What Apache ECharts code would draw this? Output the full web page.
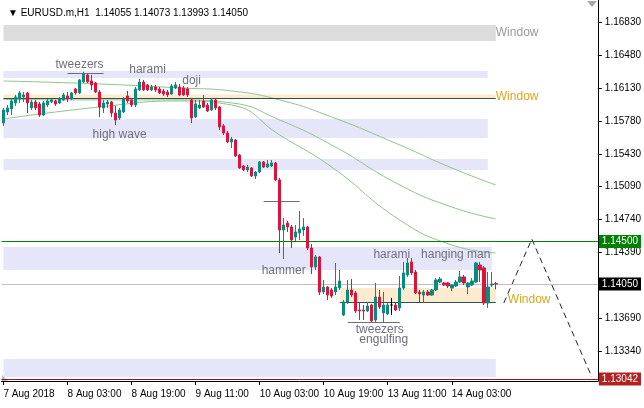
<!DOCTYPE html>
<html><head><meta charset="utf-8">
<script src="https://cdn.jsdelivr.net/npm/echarts@6/dist/echarts.min.js"></script>
<style>html,body{margin:0;padding:0;background:#fff}#c{width:644px;height:408px}</style>
</head><body><div id="c"></div><script>
// ---- data (EURUSD H1, bar 0 = 7 Aug 2018 11:00) ----
const open = [1.15758,1.15875,1.15907,1.15971,1.16013,1.16034,1.16077,1.15918,1.15981,1.15960,
1.15843,1.15949,1.15981,1.15992,1.15971,1.16003,1.16045,1.16013,1.16119,1.16077,
1.16193,1.16268,1.16204,1.16183,1.16087,1.15918,1.15960,1.15981,1.15864,1.15811,
1.15875,1.16045,1.16003,1.15949,1.16109,1.16193,1.16162,1.16109,1.16140,1.16119,
1.16098,1.16087,1.16066,1.16130,1.16140,1.16130,1.16119,1.16003,1.15822,1.15918,
1.15992,1.15949,1.15896,1.16003,1.15928,1.15727,1.15652,1.15557,1.15578,1.15418,
1.15302,1.15260,1.15281,1.15196,1.15238,1.15345,1.15291,1.15302,1.15334,1.15154,
1.14623,1.14697,1.14655,1.14549,1.14591,1.14623,1.14655,1.14432,1.14231,1.14337,
1.13965,1.14018,1.13987,1.13965,1.14008,1.13721,1.13859,1.13987,1.13955,1.13774,
1.13774,1.13764,1.13827,1.13668,1.13912,1.13743,1.13732,1.13827,1.13827,1.13796,
1.14008,1.14146,1.14284,1.14178,1.13965,1.13933,1.13965,1.13933,1.13987,1.14071,
1.14061,1.14061,1.14008,1.14029,1.14071,1.14125,1.14018,1.14040,1.14071,1.14252,
1.14220,1.13849,1.14040,1.14055];
const high = [1.15918,1.15949,1.16024,1.16056,1.16098,1.16087,1.16087,1.16003,1.16003,1.15981,
1.15992,1.16013,1.16013,1.16003,1.16034,1.16077,1.16087,1.16087,1.16130,1.16225,
1.16300,1.16278,1.16268,1.16193,1.16109,1.16003,1.16003,1.15992,1.15939,1.15918,
1.16034,1.16098,1.16024,1.16140,1.16225,1.16215,1.16172,1.16162,1.16162,1.16140,
1.16119,1.16109,1.16172,1.16193,1.16172,1.16151,1.16140,1.16024,1.16003,1.16003,
1.16056,1.15971,1.16024,1.16024,1.15939,1.15748,1.15674,1.15610,1.15589,1.15430,
1.15313,1.15313,1.15291,1.15249,1.15355,1.15355,1.15366,1.15366,1.15345,1.15175,
1.14750,1.14719,1.14676,1.14676,1.14825,1.14750,1.14666,1.14475,1.14358,1.14347,
1.14093,1.14029,1.14008,1.14273,1.14199,1.13880,1.14093,1.14103,1.13976,1.13859,
1.13827,1.13859,1.13838,1.14061,1.13987,1.13965,1.13849,1.13902,1.13849,1.14135,
1.14284,1.14326,1.14326,1.14199,1.13987,1.13987,1.13987,1.13997,1.14114,1.14125,
1.14071,1.14071,1.14050,1.14093,1.14188,1.14146,1.14071,1.14114,1.14284,1.14284,
1.14241,1.14178,1.14178,1.14073];
const low = [1.15727,1.15843,1.15843,1.15939,1.15971,1.15981,1.15864,1.15896,1.15896,1.15822,
1.15833,1.15928,1.15971,1.15939,1.15960,1.15992,1.15981,1.16003,1.16056,1.16066,
1.16183,1.16183,1.16109,1.16077,1.15822,1.15864,1.15918,1.15822,1.15737,1.15790,
1.15864,1.15971,1.15928,1.15928,1.16098,1.16098,1.16098,1.16098,1.16087,1.16066,
1.16045,1.16034,1.16056,1.16119,1.16045,1.16045,1.16034,1.15758,1.15811,1.15907,
1.15918,1.15875,1.15886,1.15896,1.15684,1.15631,1.15546,1.15493,1.15397,1.15270,
1.15249,1.15238,1.15185,1.15164,1.15228,1.15281,1.15281,1.15291,1.15143,1.14379,
1.14316,1.14602,1.14432,1.14506,1.14517,1.14559,1.14411,1.14156,1.14199,1.13933,
1.13944,1.13880,1.13902,1.13933,1.13987,1.13711,1.13838,1.13912,1.13743,1.13668,
1.13668,1.13753,1.13647,1.13647,1.13785,1.13647,1.13721,1.13721,1.13764,1.13764,
1.13987,1.14125,1.14146,1.13944,1.13859,1.13849,1.13923,1.13923,1.13976,1.14061,
1.14029,1.14008,1.13976,1.14018,1.14061,1.14040,1.13944,1.14029,1.14061,1.14071,
1.13827,1.13796,1.14018,1.13993];
const close = [1.15896,1.15918,1.15992,1.16034,1.16077,1.16056,1.15971,1.15981,1.15918,1.15843,
1.15971,1.15992,1.16003,1.15960,1.16013,1.16056,1.16013,1.16077,1.16077,1.16215,
1.16278,1.16193,1.16162,1.16087,1.15928,1.15971,1.15981,1.15864,1.15790,1.15896,
1.16013,1.15992,1.15949,1.16119,1.16193,1.16109,1.16109,1.16140,1.16109,1.16077,
1.16066,1.16056,1.16151,1.16162,1.16056,1.16056,1.16056,1.15811,1.15960,1.15949,
1.15928,1.15886,1.16003,1.15918,1.15716,1.15652,1.15557,1.15589,1.15408,1.15281,
1.15260,1.15291,1.15196,1.15238,1.15345,1.15291,1.15323,1.15334,1.15154,1.14623,
1.14676,1.14655,1.14517,1.14602,1.14634,1.14655,1.14432,1.14231,1.14337,1.13965,
1.14018,1.13933,1.13923,1.14018,1.14082,1.13859,1.13987,1.13933,1.13764,1.13764,
1.13764,1.13817,1.13658,1.13912,1.13806,1.13827,1.13827,1.13827,1.13774,1.14008,
1.14167,1.14273,1.14167,1.13955,1.13944,1.13965,1.13933,1.13987,1.14093,1.14103,
1.14040,1.14029,1.14040,1.14071,1.14125,1.14061,1.14061,1.14082,1.14273,1.14199,
1.13849,1.14018,1.14050,1.14050];
const totalSlots = 149;               // bars + empty chart-shift area
const tickIdx = [0,16,32,48,64,80,96,112];
const tickLabels = ['7 Aug 2018','8 Aug 03:00','8 Aug 19:00','9 Aug 11:00','10 Aug 03:00','10 Aug 19:00','13 Aug 11:00','14 Aug 03:00'];
const priceTicks = [1.16830,1.16480,1.16130,1.15780,1.15430,1.15090,1.14740,1.14390,1.14050,1.13690,1.13340];
const yMin = 1.13021, yMax = 1.17063;
// moving averages, sampled [bar, price]
const maSlow = [[0,1.16204],[24,1.16172],[44,1.16130],[57,1.16098],[69,1.16003],[82,1.15822],[99,1.15525],[112,1.15281],[123,1.15101]];
const maMid  = [[0,1.16008],[24,1.16003],[44,1.16003],[57,1.15971],[69,1.15790],[82,1.15525],[99,1.15101],[112,1.14867],[123,1.14740]];
const maFast = [[0,1.15801],[24,1.15928],[44,1.15992],[57,1.15949],[69,1.15631],[82,1.15291],[99,1.14729],[112,1.14464],[123,1.14379]];
// zones [fromBar, toBar, top, bottom]
const windowZoneGray = [[0,123,1.16798,1.16628]];
const lavenderZones = [[0,121,1.16310,1.16236],[0,121,1.15801,1.15599],[0,121,1.15376,1.15260],[0,122,1.14443,1.14199],[0,123,1.13254,1.13063]];
const gapZones = [[0,123,1.16061,1.16018],[84,123,1.14008,1.13859]];
const gapEdges = [[0,123,1.16018],[84,123,1.13859]];
const patternLines = [[16,25,1.16289],[65,74,1.14931],[86,99,1.13647]];
const patternTexts = [['tweezers',19,1.16374],['harami',36,1.16321],['doji',47,1.16204],['high wave',29,1.15631],['hammer',70,1.14188],['harami',97,1.14358],['hanging man',113,1.14358],['tweezers',94,1.13562],['engulfing',95,1.13456]];
const windowTexts = [['gray',123,1.16713],['gold',123,1.16040],['gold',126,1.13880]];
const projection = [[125,1.13849],[132,1.14527],[147,1.13063]];
const levelGreen = 1.14500, levelBid = 1.14050, levelRed = 1.13042;
const titleText = '\u25BC EURUSD.m,H1  1.14055 1.14073 1.13993 1.14050';

// ---- build ----
const cats = Array.from({length: totalSlots}, (_, i) => String(i));
const candleData = open.map((o, i) => {
  const item = {value: [o, close[i], low[i], high[i]]};
  if (o === close[i]) item.itemStyle = {color: '#000', borderColor: '#000'};
  return item;
});
const lav = '#e6e6fa', beige = '#fdebd0', gray = '#dcdcdc';
const areas = [];
windowZoneGray.forEach(z => areas.push([{coord:[z[0], z[2]], itemStyle:{color: gray}}, {coord:[z[1], z[3]]}]));
lavenderZones.forEach(z => areas.push([{coord:[z[0], z[2]], itemStyle:{color: lav}}, {coord:[z[1], z[3]]}]));
gapZones.forEach(z => areas.push([{coord:[z[0], z[2]], itemStyle:{color: beige}}, {coord:[z[1], z[3]]}]));
const segLines = [];
gapEdges.forEach(l => segLines.push([{coord:[l[0], l[2]], lineStyle:{color:'#2f4f4f', width:1, type:'solid'}}, {coord:[l[1], l[2]]}]));
patternLines.forEach(l => segLines.push([{coord:[l[0], l[2]], lineStyle:{color:'#6e6e6e', width:1, type:'solid'}}, {coord:[l[1], l[2]]}]));
const priceLabel = (v, bg, lineColor) => ({yAxis: v, lineStyle:{color: lineColor, width:1, type:'solid'},
  label:{show:true, position:'end', formatter: v.toFixed(5), backgroundColor: bg, color:'#fff', padding:[2,3,1,3], distance:1, fontSize:10, fontFamily:'Liberation Sans'}});
const textPoints = patternTexts.map(t => ({coord:[t[1], t[2]], symbolSize:0,
  label:{show:true, position:'inside', formatter: t[0], color:'#6f6f7d', fontSize:12, fontFamily:'Liberation Sans'}}));
windowTexts.forEach(t => textPoints.push({coord:[t[1], t[2]], symbolSize:0,
  label:{show:true, position:'right', distance:0, formatter:'Window', color: t[0] === 'gray' ? '#9a9a9a' : '#daa520', fontSize:12, fontFamily:'Liberation Sans'}}));

const chart = echarts.init(document.getElementById('c'), null, {renderer:'canvas'});
const maStyle = {type:'line', smooth:true, showSymbol:false, silent:true, z:3, lineStyle:{color:'#8fc48a', width:1}};
chart.setOption({
  animation:false,
  backgroundColor:'#fff',
  title:{text: titleText, left:3, top:3, textStyle:{fontSize:10, fontWeight:'normal', color:'#000', fontFamily:'Liberation Sans'}},
  grid:{left:1.5, right:46, top:0, bottom:27, show:false},
  graphic:[
    {type:'polygon', silent:true, shape:{points:[[587,1],[597,1],[592,7]]}, style:{fill:'#a8a8a8'}},
    {type:'polygon', silent:true, shape:{points:[[2,375],[2,381],[8,381]]}, style:{fill:'#b8b8b8'}}
  ],
  xAxis:{type:'category', data:cats, boundaryGap:true,
    axisLine:{show:true, lineStyle:{color:'#000'}},
    axisTick:{show:true, alignWithLabel:true, interval:(i)=>tickIdx.includes(i), length:4, lineStyle:{color:'#000'}},
    axisLabel:{interval:(i)=>tickIdx.includes(i), formatter:(v,i)=>{const k=tickIdx.indexOf(i); return k>=0?tickLabels[k]:'';},
      align:'left', color:'#000', fontSize:10, margin:8, fontFamily:'Liberation Sans'},
    splitLine:{show:false}},
  yAxis:{type:'value', position:'right', min:yMin, max:yMax, scale:true,
    axisLine:{show:true, lineStyle:{color:'#000'}},
    axisTick:{show:true, customValues:priceTicks, length:4, lineStyle:{color:'#000'}},
    axisLabel:{customValues:priceTicks, formatter:(v)=>v.toFixed(5), color:'#000', fontSize:10, margin:7, fontFamily:'Liberation Sans'},
    splitLine:{show:false}},
  series:[
    {type:'line', data:[], silent:true, z:1, showSymbol:false,
      markArea:{silent:true, data: areas},
      markLine:{silent:true, symbol:'none', precision:5, data:[...segLines,
        priceLabel(levelGreen,'#008000','#008000'), priceLabel(levelBid,'#000','#c0c0c0'), priceLabel(levelRed,'#b22222','#8b1a1a')]},
      markPoint:{silent:true, symbol:'circle', symbolSize:0, data: textPoints}},
    Object.assign({data: maSlow}, maStyle),
    Object.assign({data: maMid}, maStyle),
    Object.assign({data: maFast}, maStyle),
    {type:'candlestick', data:candleData, barWidth:3, z:5, silent:true,
      itemStyle:{color:'#0b8a7e', color0:'#dc143c', borderColor:'#0b8a7e', borderColor0:'#dc143c', borderWidth:1}},
    {type:'line', data:projection, showSymbol:false, silent:true, z:4, lineStyle:{color:'#222', width:1, type:[6,4]}}
  ]
});
</script></body></html>
